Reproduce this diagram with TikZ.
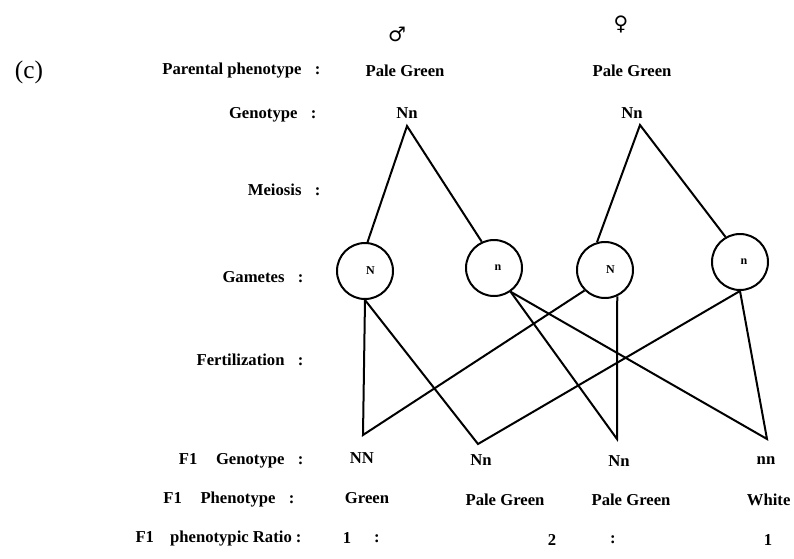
\documentclass[tikz,border=0pt]{standalone}
\usepackage{fontspec}
\setmainfont{Liberation Serif}
\newfontfamily\sexfont{DejaVu Sans}
\tikzset{
    txt/.style={font=\fontsize{12.5}{14}\selectfont\bfseries, inner sep=1pt},
    lbl/.style={txt, anchor=east},
    gamete/.style={draw, circle, line width=1.5pt, minimum size=42pt, inner sep=0pt,
        font=\fontsize{9}{10}\selectfont\bfseries},
    cross/.style={line width=1.5pt},
}

\begin{document}
\begin{tikzpicture}[x=0.75pt, y=-0.75pt]
\useasboundingbox (0,0) rectangle (794,558);
\node[font=\fontsize{19}{21}\selectfont] (part) at (29,72) {(c)};

\node[lbl] (lpar) at (322,71) {Parental phenotype\hspace{10pt}:};
\node[lbl] (lgen) at (318,115) {Genotype\hspace{10pt}:};
\node[lbl] (lmei) at (322,190) {Meiosis\hspace{10pt}:};
\node[lbl] (lgam) at (305,277) {Gametes\hspace{10pt}:};
\node[lbl] (lfer) at (305,360) {Fertilization\hspace{10pt}:};
\node[lbl] (lfgen) at (305,461) {F1\hspace{14pt}Genotype\hspace{10pt}:};
\node[lbl] (lfphen) at (296,500) {F1\hspace{14pt}Phenotype\hspace{10pt}:};
\node[lbl] (lfrat) at (303,539) {F1\hspace{12pt}phenotypic Ratio\hspace{3pt}:};

\node[font=\sexfont\fontsize{15}{16}\selectfont] (male) at (397,34) {♂};
\node[font=\sexfont\fontsize{15}{16}\selectfont] (female) at (621,24) {♀};
\node[txt] (mphen) at (405,71) {Pale Green};
\node[txt] (fphen) at (632,71) {Pale Green};
\node[txt] (mgen) at (407,113) {Nn};
\node[txt] (fgen) at (632,113) {Nn};
\coordinate (mtop) at (407,126);
\coordinate (ftop) at (640,125);

\node[gamete] (g1) at (365,271) {\hspace*{8pt}N};
\node[gamete] (g2) at (494,268) {\hspace*{6pt}n};
\node[gamete] (g3) at (605,270) {\hspace*{8pt}N};
\node[gamete] (g4) at (740,262) {\hspace*{6pt}n};

\coordinate (v1) at (363,435);
\coordinate (v2) at (478,444);
\coordinate (v3) at (617,439);
\coordinate (v4) at (767,439);

\draw[cross] (g1.85) -- (mtop) -- (g2.115);
\draw[cross] (g3.106) -- (ftop) -- (g4.120);
\draw[cross] (g1.south) -- (v1) -- (g3.-135);
\draw[cross] (g1.south) -- (v2) -- (g4.south);
\draw[cross] (g2.-55) -- (v3) -- (g3.-65);
\draw[cross] (g2.-55) -- (v4) -- (g4.south);

\node[txt] (k1) at (362,458) {NN};
\node[txt] (k2) at (481,460) {Nn};
\node[txt] (k3) at (619,461) {Nn};
\node[txt] (k4) at (766,461) {nn};

\node[txt] (p1) at (367,498) {Green};
\node[txt] (p2) at (505,500) {Pale Green};
\node[txt] (p3) at (631,500) {Pale Green};
\node[txt, anchor=east] (p4) at (792,500) {White};

\node[txt] (r1) at (347,538) {1};
\node[txt] (c1) at (377,539) {:};
\node[txt] (r2) at (552,540) {2};
\node[txt] (c2) at (613,540) {:};
\node[txt] (r3) at (768,540) {1};
\end{tikzpicture}
\end{document}
